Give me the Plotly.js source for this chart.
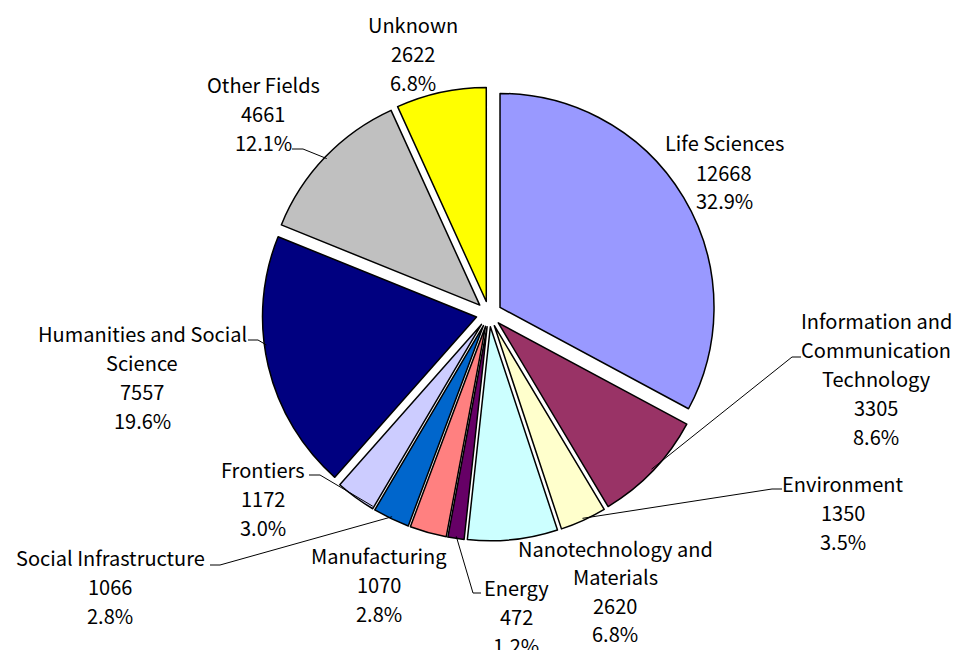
<!DOCTYPE html>
<html><head><meta charset="utf-8">
<script src="https://cdn.plot.ly/plotly-3.0.1.min.js"></script>
<style>html,body{margin:0;padding:0;background:#fff}#chart{width:954px;height:650px}</style>
</head><body><div id="chart"></div>
<script>
// ---- data ----
const categories = ["Life Sciences", "Information and\nCommunication\nTechnology", "Environment",
  "Nanotechnology and\nMaterials", "Energy", "Manufacturing", "Social Infrastructure",
  "Frontiers", "Humanities and Social\nScience", "Other Fields", "Unknown"];
const values = [12668, 3305, 1350, 2620, 472, 1070, 1066, 1172, 7557, 4661, 2622];
const colors = ["#9999FF", "#993366", "#FFFFCC", "#CCFFFF", "#660066", "#FF8080",
  "#0066CC", "#CCCCFF", "#000080", "#C0C0C0", "#FFFF00"];

// ---- layout (pixels) ----
const W = 954, H = 650;
const CX = 489, CY = 314, R = 214, PULL = 0.06;
const LINE = 29;
const FONT = {family: "'Noto Sans CJK JP', 'Noto Sans', sans-serif", size: 20, color: "#000"};
const labelPos = [
  {x: 724, y: 143},
  {x: 876, y: 320, elbow: [[801, 357], [792, 357]]},
  {x: 843, y: 483, elbow: [[782, 489], [772, 489]]},
  {x: 615, y: 548, line: 28.5},
  {x: 516, y: 587, elbow: [[481, 593], [473, 593]]},
  {x: 379, y: 555},
  {x: 110, y: 557, elbow: [[210, 565], [220, 565]]},
  {x: 263, y: 469, elbow: [[309, 475], [320, 475]], at: 0.03},
  {x: 142, y: 333, elbow: [[248, 340], [258, 340]], at: 0.58},
  {x: 263, y: 85, elbow: [[292, 149], [303, 149]]},
  {x: 413, y: 25}
];

const px = v => v / W, py = v => 1 - v / H;
const total = values.reduce((a, b) => a + b, 0);
const half = R * (1 + PULL);

// slice geometry from data
let cum = 0;
const slices = values.map(v => {
  const a0 = cum / total * 360; cum += v;
  const a1 = cum / total * 360;
  return {a0, a1, mid: (a0 + a1) / 2};
});
function slicePoint(i, frac, rho) {
  const s = slices[i];
  const mid = s.mid * Math.PI / 180;
  const ox = CX + R * PULL * Math.sin(mid), oy = CY - R * PULL * Math.cos(mid);
  const a = (s.a0 + (s.a1 - s.a0) * frac) * Math.PI / 180;
  return [ox + rho * Math.sin(a), oy - rho * Math.cos(a)];
}

const annotations = [];
const shapes = [];
categories.forEach((c, i) => {
  const lp = labelPos[i];
  const step = lp.line || LINE;
  const lines = c.split("\n").concat([String(values[i]), (values[i] / total * 100).toFixed(1) + "%"]);
  lines.forEach((t, k) => {
    annotations.push({
      x: px(lp.x), y: py(lp.y + k * step), xref: "paper", yref: "paper",
      text: t, showarrow: false, xanchor: "center", yanchor: "middle", font: FONT
    });
  });
  if (lp.elbow) {
    const pts = lp.elbow.concat([slicePoint(i, lp.at === undefined ? 0.5 : lp.at, R * 0.99)]);
    let path = "M" + pts.map(p => px(p[0]) + "," + py(p[1])).join(" L");
    shapes.push({type: "path", xref: "paper", yref: "paper", path: path,
      line: {color: "#000", width: 1}});
  }
});

const trace = {
  type: "pie",
  labels: categories.map(c => c.replace(/\n/g, " ")),
  values: values,
  sort: false,
  direction: "clockwise",
  rotation: 0,
  pull: values.map(() => PULL),
  marker: {colors: colors, line: {color: "#000", width: 1.5}},
  textinfo: "none",
  hoverinfo: "skip",
  domain: {x: [(CX - half) / W, (CX + half) / W], y: [1 - (CY + half) / H, 1 - (CY - half) / H]}
};

Plotly.newPlot("chart", [trace], {
  width: W, height: H,
  margin: {l: 0, r: 0, t: 0, b: 0},
  showlegend: false,
  paper_bgcolor: "#fff",
  annotations: annotations,
  shapes: shapes
}, {displayModeBar: false, staticPlot: true});
</script>
</body></html>
